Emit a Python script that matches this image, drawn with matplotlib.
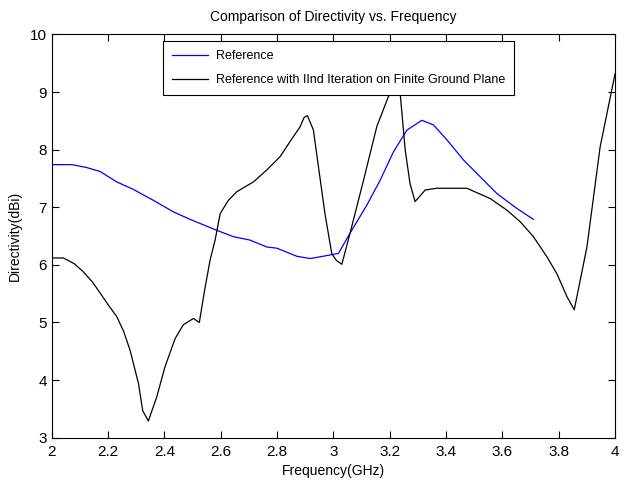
import matplotlib
matplotlib.use('Agg')
import matplotlib.pyplot as plt

# valores
freq_ref = [2.0, 2.071, 2.124, 2.172, 2.231, 2.290, 2.361, 2.432, 2.491, 2.586,
            2.645, 2.704, 2.764, 2.799, 2.870, 2.917, 2.964, 3.018, 3.059, 3.119,
            3.166, 3.213, 3.261, 3.314, 3.355, 3.403, 3.462, 3.521, 3.580, 3.651, 3.710]
dir_ref = [7.74, 7.74, 7.69, 7.62, 7.44, 7.31, 7.12, 6.92, 6.79, 6.60,
           6.49, 6.43, 6.31, 6.29, 6.15, 6.11, 6.15, 6.20, 6.55, 7.04,
           7.47, 7.96, 8.34, 8.51, 8.43, 8.17, 7.82, 7.53, 7.24, 6.98, 6.79]

freq_fgp = [2.0, 2.041, 2.080, 2.112, 2.145, 2.172, 2.200, 2.231, 2.255, 2.278, 2.308,
            2.323, 2.343, 2.373, 2.402, 2.438, 2.467, 2.503, 2.524, 2.541, 2.562,
            2.580, 2.598, 2.627, 2.657, 2.716, 2.764, 2.811, 2.846, 2.882, 2.896,
            2.908, 2.929, 2.947, 2.970, 2.994, 3.010, 3.030, 3.059, 3.107, 3.154,
            3.195, 3.220, 3.237, 3.255, 3.272, 3.290, 3.326, 3.367, 3.474, 3.557,
            3.616, 3.663, 3.710, 3.758, 3.793, 3.829, 3.855, 3.900, 3.947, 4.0]
dir_fgp = [6.12, 6.12, 6.02, 5.88, 5.70, 5.51, 5.31, 5.10, 4.85, 4.52, 3.94,
           3.47, 3.29, 3.71, 4.23, 4.72, 4.96, 5.07, 5.00, 5.51, 6.08,
           6.43, 6.89, 7.12, 7.27, 7.44, 7.65, 7.88, 8.14, 8.40, 8.56,
           8.59, 8.34, 7.70, 6.89, 6.20, 6.08, 6.01, 6.55, 7.47, 8.40,
           8.92, 9.08, 8.98, 7.99, 7.41, 7.10, 7.30, 7.33, 7.33, 7.15,
           6.95, 6.75, 6.49, 6.14, 5.85, 5.45, 5.22, 6.31, 8.05, 9.32]

xticks = [2, 2.2, 2.4, 2.6, 2.8, 3, 3.2, 3.4, 3.6, 3.8, 4]
xticklabels = ['2', '2.2', '2.4', '2.6', '2.8', '3', '3.2', '3.4', '3.6', '3.8', '4']
yticks = [3, 4, 5, 6, 7, 8, 9, 10]

plt.rcParams['font.family'] = ['Liberation Sans', 'DejaVu Sans']
plt.rcParams['font.size'] = 10

fig = plt.figure(figsize=(6.27, 4.86), dpi=100)
ax = fig.add_axes([0.0825, 0.0994, 0.8985, 0.8297])

ax.plot(freq_ref, dir_ref, color='#0000ff', linewidth=0.9, label='Reference')
ax.plot(freq_fgp, dir_fgp, color='black', linewidth=0.9,
        label='Reference with IInd Iteration on Finite Ground Plane')

ax.set_xlim(2, 4)
ax.set_ylim(3, 10)
ax.set_xticks(xticks)
ax.set_xticklabels(xticklabels)
ax.set_yticks(yticks)
ax.tick_params(direction='in', top=True, right=True, length=5, width=0.8, labelsize=11)
ax.tick_params(axis='x', pad=5)
for s in ax.spines.values():
    s.set_linewidth(0.8)

ax.set_title('Comparison of Directivity vs. Frequency', fontsize=10, pad=10)
ax.set_xlabel('Frequency(GHz)', fontsize=10, labelpad=4)
ax.set_ylabel('Directivity(dBi)', fontsize=10, labelpad=6)

leg = ax.legend(loc='upper left', bbox_to_anchor=(0.198, 0.983), fontsize=9,
                fancybox=False, framealpha=1, edgecolor='black',
                handlelength=2.9, handletextpad=0.6, borderpad=0.7,
                labelspacing=0.95, borderaxespad=0)
leg.get_frame().set_linewidth(0.8)

fig.savefig('out.png', dpi=100)
